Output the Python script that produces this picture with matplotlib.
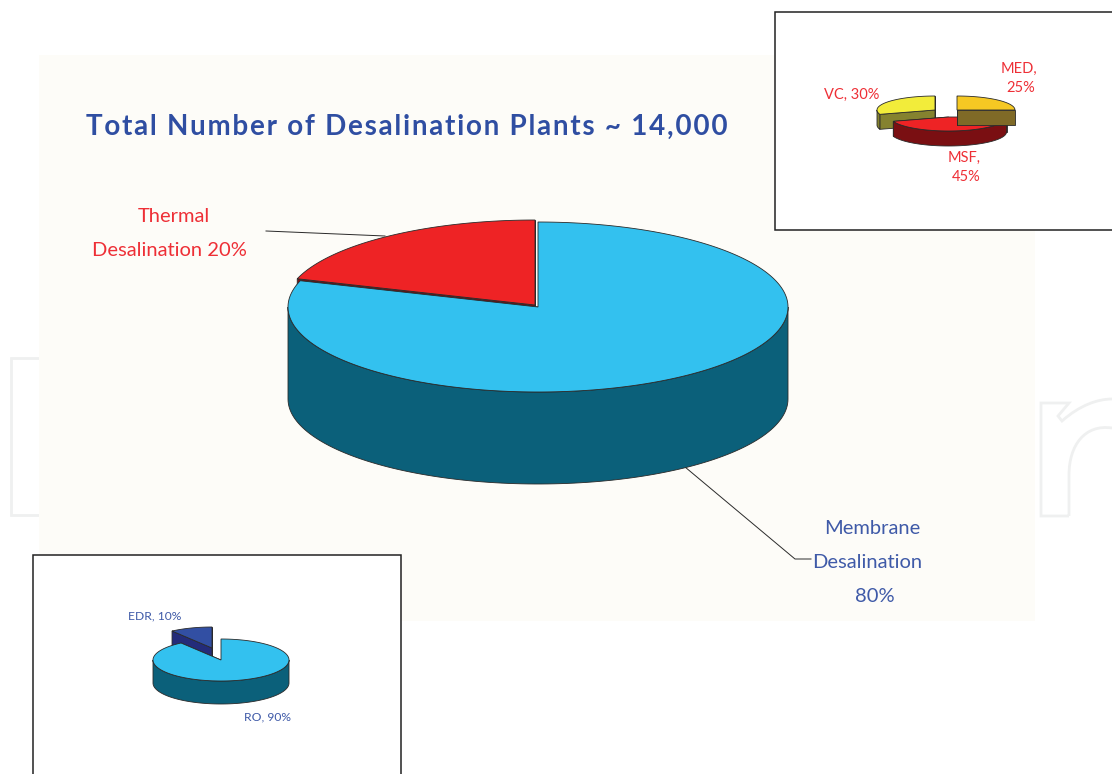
import matplotlib
matplotlib.use('Agg')
import matplotlib.pyplot as plt
from matplotlib.patches import Polygon, Rectangle, PathPatch
from matplotlib.path import Path
import numpy as np

# Shares (percent)
main_labels = ['Thermal Desalination', 'Membrane Desalination']
main_values = [20, 80]
ro_labels = ['EDR', 'RO']
ro_values = [10, 90]
thermal_labels = ['VC', 'MSF', 'MED']
thermal_values = [30, 45, 25]

BLUE_TOP = '#33c1ef'
BLUE_SIDE = '#0b607a'
RED_TOP = '#ee2325'
RED_SIDE = '#7a1013'
TITLE_BLUE = '#2f4ea2'
TEXT_BLUE = '#3f5aa8'
TEXT_RED = '#ee2f36'
EDGE = '#2a2a2a'
MARK = '#eff0f0'

NARROW = ['Lato', 'DejaVu Sans']


def pie_3d(ax, values, tops, sides, center, rx, ry, depth, shifts, z):
    # counter-clockwise from 12 o'clock, like the office chart
    start = 90.0
    total = sum(values)
    for i, val in enumerate(values):
        end = start + 360.0 * val / total
        cx = center[0] + shifts[i][0]
        cy = center[1] + shifts[i][1]

        def pt(a):
            a = np.radians(a)
            return np.array([cx + rx * np.cos(a), cy - ry * np.sin(a)])

        # cut faces first, whatever is hidden gets covered by the top
        for a in (start, end):
            p = pt(a)
            ax.add_patch(Polygon([(cx, cy), p, p + [0, depth], (cx, cy + depth)],
                                 fc=sides[i], ec=EDGE, lw=0.6, zorder=z))

        # outer wall, only the part facing the viewer
        for lo, hi in ((180, 360), (540, 720)):
            a0, a1 = max(start, lo), min(end, hi)
            if a1 <= a0:
                continue
            arc = np.array([pt(a) for a in np.linspace(a0, a1, 120)])
            wall = np.vstack([arc, arc[::-1] + [0, depth]])
            ax.add_patch(Polygon(wall, fc=sides[i], ec=EDGE, lw=0.6, zorder=z))

        arc = np.array([pt(a) for a in np.linspace(start, end, 240)])
        ax.add_patch(Polygon(np.vstack([[cx, cy], arc]), fc=tops[i], ec=EDGE,
                             lw=0.6, zorder=z))
        start = end
        z += 1


def spaced(s):
    return '\u200a'.join(s)


fig = plt.figure(figsize=(11.12, 7.74), dpi=100)
ax = fig.add_axes([0, 0, 1, 1])
ax.set_xlim(0, 1112)
ax.set_ylim(774, 0)
ax.axis('off')

# faint watermark outlines round the panel
ax.add_patch(Rectangle((11, 358), 30, 157, fc='white', ec=MARK, lw=2, zorder=0))
n_verts = [(1069, 516), (1041, 516), (1041, 403), (1069, 403), (1058, 416),
           (1062, 421), (1080, 405), (1098, 399), (1112, 399),
           (1112, 428), (1085, 424), (1069, 445), (1069, 475), (1069, 516)]
n_codes = [Path.MOVETO, Path.LINETO, Path.LINETO, Path.LINETO, Path.LINETO,
           Path.LINETO, Path.CURVE4, Path.CURVE4, Path.CURVE4,
           Path.MOVETO, Path.CURVE4, Path.CURVE4, Path.CURVE4, Path.LINETO]
ax.add_patch(PathPatch(Path(n_verts, n_codes), fc='none', ec=MARK, lw=2, zorder=0))

# cream panel
ax.add_patch(Rectangle((39, 55), 996, 566, fc='#fdfcf8', ec='none', zorder=1))

ax.text(86, 127, spaced('Total Number of Desalination Plants ~ 14,000'),
        family=NARROW, fontsize=20, fontweight='bold', color=TITLE_BLUE,
        ha='left', va='center', zorder=3)

# main pie
pie_3d(ax, main_values, [RED_TOP, BLUE_TOP], [RED_SIDE, BLUE_SIDE],
       (538, 307), 250, 85, 92, [(-3, -2), (0, 0)], 3)

ax.plot([266, 385], [231, 236], color=EDGE, lw=0.7, zorder=2)
ax.plot([685, 795, 811], [467, 559, 559], color=EDGE, lw=0.7, zorder=2)

ax.text(174, 217, 'Thermal', family=NARROW, fontsize=14.5, color=TEXT_RED,
        ha='center', va='center', zorder=6)
ax.text(169, 251, f'Desalination {main_values[0]}%', family=NARROW, fontsize=14.5,
        color=TEXT_RED, ha='center', va='center', zorder=6)
ax.text(872, 528, 'Membrane', family=NARROW, fontsize=14.5, color=TEXT_BLUE,
        ha='center', va='center', zorder=6)
ax.text(867, 562, 'Desalination', family=NARROW, fontsize=14.5, color=TEXT_BLUE,
        ha='center', va='center', zorder=6)
ax.text(875, 596, f'{main_values[1]}%', family=NARROW, fontsize=14.5, color=TEXT_BLUE,
        ha='center', va='center', zorder=6)

# inset top right, thermal processes
ax.add_patch(Rectangle((775, 12), 345, 218, fc='white', ec='#222222', lw=1.1, zorder=10))
pie_3d(ax, thermal_values, ['#f2ec3a', RED_TOP, '#f5c823'],
       ['#85822f', '#7a0f12', '#7f6a27'],
       (948.5, 117), 58, 14, 15, [(-13.5, -7), (0, 0), (8.5, -7)], 11)
ax.text(852, 95, f'{thermal_labels[0]}, {thermal_values[0]}%', family=NARROW, fontsize=10.5,
        color=TEXT_RED, ha='center', va='center', zorder=15)
ax.text(1019, 69, f'{thermal_labels[2]},', family=NARROW, fontsize=10.5, color=TEXT_RED,
        ha='center', va='center', zorder=15)
ax.text(1021, 88, f'{thermal_values[2]}%', family=NARROW, fontsize=10.5, color=TEXT_RED,
        ha='center', va='center', zorder=15)
ax.text(964, 158, f'{thermal_labels[1]},', family=NARROW, fontsize=10.5, color=TEXT_RED,
        ha='center', va='center', zorder=15)
ax.text(966, 177, f'{thermal_values[1]}%', family=NARROW, fontsize=10.5, color=TEXT_RED,
        ha='center', va='center', zorder=15)

# inset bottom left, membrane processes
ax.add_patch(Rectangle((33, 555), 368, 240, fc='white', ec='#222222', lw=1.1, zorder=10))
pie_3d(ax, ro_values, ['#324fa3', BLUE_TOP], ['#242c7a', BLUE_SIDE],
       (221, 660), 68, 21, 23, [(-9, -12), (0, 0)], 11)
ax.text(155, 616, f'{ro_labels[0]}, {ro_values[0]}%', family=NARROW, fontsize=8.7,
        color=TEXT_BLUE, ha='center', va='center', zorder=15)
ax.text(267, 717, f'{ro_labels[1]}, {ro_values[1]}%', family=NARROW, fontsize=8.7,
        color=TEXT_BLUE, ha='center', va='center', zorder=15)

plt.savefig('out.png', dpi=100)
